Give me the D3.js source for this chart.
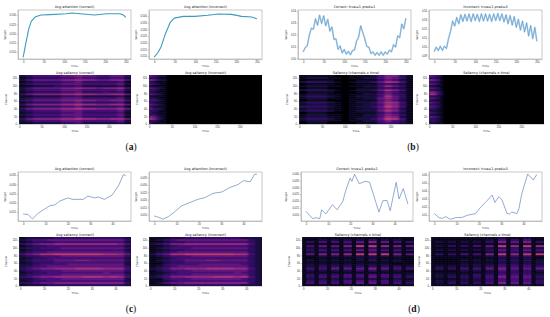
<!DOCTYPE html>
<head>
	<meta charset="utf-8">
	<style>
		body { margin: 0; background: #fff; }
		svg { display: block; font-family: "DejaVu Sans", sans-serif; }
		.axis text { font-size: 2.7px; fill: #333; stroke: none; }
		.axis line, .axis path { stroke: #666; stroke-width: 0.3px; fill: none; }
		.frame { fill: none; stroke: #888; stroke-width: 0.45px; }
		.title { font-size: 3.5px; fill: #222; text-anchor: middle; }
		.label { font-size: 2.8px; fill: #333; text-anchor: middle; }
		.tag { font-family: "Liberation Serif", serif; font-size: 9.5px; fill: #111; text-anchor: middle; }
		.tag tspan { font-weight: bold; }
		.band { fill: none; stroke-linejoin: round; }
		.mean { fill: none; stroke-linejoin: round; }
	</style>
	<title>Attention and saliency panels</title>
	<script src="https://d3js.org/d3.v7.min.js"></script>
</head>

<body>
	<div id="chart"></div>
	<script>
		// line values
		var aLeftTime = [0, 6.5, 14, 20, 30, 44, 65, 106, 118, 146, 174, 203, 236, 245, 250];
		var aLeftWeight = [.5071, .5147, .5228, .5267, .5291, .53, .5302, .5307, .5311, .5305, .53, .5307, .5307, .5298, .5287];
		var aRightTime = [0, 9, 17, 27, 39, 49, 71, 99, 131, 156, 188, 213, 237, 250];
		var aRightWeight = [.509, .5123, .5169, .5262, .5351, .5384, .5397, .5397, .5405, .5415, .5412, .5397, .5392, .5379];

		var bTime = d3.range(0, 251, 5);
		var bLeftWeight = [.5055, .509, .5105, .5195, .5255, .5245, .5335, .528, .5365, .5295, .536, .5275, .533, .523, .5265, .516, .5165, .5075, .5105, .5045, .5075, .5035, .506, .503, .5065, .507, .5145, .518, .5275, .522, .5165, .51, .5095, .504, .5055, .5025, .505, .5025, .5055, .5025, .5055, .5035, .507, .5055, .5115, .5095, .519, .5175, .529, .525, .534];
		var bRightWeight = [.4945, .4995, .4955, .5005, .496, .5005, .498, .509, .517, .5285, .523, .5325, .5255, .5355, .528, .536, .5285, .5365, .528, .5365, .529, .536, .528, .5365, .5285, .5365, .5285, .536, .528, .5365, .529, .537, .529, .5365, .5275, .5355, .5255, .5345, .524, .5335, .5215, .5305, .5185, .5285, .5165, .5265, .512, .5235, .509, .5215, .506];

		var cLeftTime = [0, 2.2, 4.2, 6.7, 9, 12, 14.2, 16.4, 20.2, 22, 26.9, 29, 32, 33.6, 36.4, 39.9, 42.9, 44.9, 46];
		var cLeftWeight = [.0139, .0136, .0112, .0143, .0161, .0184, .0188, .0209, .0226, .0218, .0218, .0236, .0226, .0231, .0218, .0242, .0296, .0353, .0346];
		var cRightTime = [0, 1.9, 3.9, 6.4, 9, 12.2, 16, 19.7, 22.7, 26.4, 30.4, 33.8, 37.6, 40, 43, 45, 46];
		var cRightWeight = [.0091, .0082, .0069, .0087, .0116, .0158, .0181, .0203, .0214, .0243, .0252, .0281, .0302, .0328, .032, .0371, .0371];

		var dLeftTime = [0, 1, 3, 4.4, 6.2, 7, 8.9, 11.9, 14, 16.6, 17.8, 19.9, 20.7, 21.9, 24, 26.7, 28.7, 32.9, 34.7, 36.6, 38, 40.7, 42, 43.9, 46];
		var dLeftWeight = [.0124, .0105, .0071, .0078, .0071, .0136, .0105, .0173, .0136, .0197, .027, .0367, .0343, .0396, .0326, .0343, .0336, .0119, .0202, .0204, .0129, .0336, .0214, .029, .0178];
		var dRightTime = [0, 2.2, 3.7, 5.2, 7.4, 9.6, 12.6, 14.8, 18.5, 20.7, 23.3, 26, 27.2, 29, 30.4, 32.6, 33.8, 34.8, 37, 38, 39.3, 41.9, 44.4, 46];
		var dRightWeight = [.0121, .0067, .0058, .0079, .0046, .0067, .0071, .0096, .0117, .0192, .0267, .035, .0258, .0329, .0288, .0121, .0113, .0138, .0117, .0183, .0371, .0613, .0538, .0608];

		// tick labels
		var timeTicksLong = [0, 50, 100, 150, 200, 250];
		var timeTicksShort = [0, 10, 20, 30, 40];
		var heatTicksLong = [0, 50, 100, 150, 200];
		var channelTicks = [0, 20, 40, 60, 80, 100, 120];
		var aLeftTicks = [.51, .515, .52, .525, .53];
		var aRightTicks = [.51, .515, .52, .525, .53, .535, .54];
		var bLeftTicks = [.5, .51, .52, .53, .54];
		var bRightTicks = [.49, .5, .51, .52, .53, .54];
		var cLeftTicks = [.015, .02, .025, .03, .035];
		var cRightTicks = [.01, .015, .02, .025, .03, .035];
		var dLeftTicks = [.01, .015, .02, .025, .03, .035, .04];
		var dRightTicks = [.01, .02, .03, .04, .05, .06];

		// saliency cells, one hex digit per cell, top channel first
		var aLeftHeat = ["2344445565544553", "1233334454433442", "2455556676655664", "1233334453333341", "2344445554444452", "1122233342222231", "2455556676656674", "2344445554444452", "1233334453334341", "3566667787766775", "1122223342222231", "2344445554444452", "3455556676655664", "1233334453333341", "3566667787766775", "1233334453333341", "3566667787766675", "2344445554444452", "1233334453333341", "2344445554444452", "1233334453333341", "3566667787766775", "2344445554444452", "1122223342222231"];
		var aRightHeat = ["54322", "33211", "65322", "32111", "43211", "21111", "54321", "33211", "32111", "54321", "21111", "33211", "44321", "32111", "54321", "32111", "53321", "33211", "32111", "33211", "65321", "86421", "33211", "31111"];
		var bLeftHeat = ["1111100111246631", "1222110112246531", "0111100011135421", "2333210122358741", "0111100011134321", "1222110112247531", "0111000011134321", "2333210122358641", "0111100011135421", "1222110112246431", "2333210122248531", "1222110112257531", "0111000111146421", "2333210122358741", "1222110112247631", "3333210122359741", "1222110112246521", "2333210122258631", "0111000111135421", "1222110112246531", "1222110112247621", "2333210122359841", "1222110112246431", "0111000011134321"];
		var bRightHeat = ["5431", "3321", "6541", "3321", "5431", "2211", "5431", "3321", "7642", "8742", "3321", "5431", "2211", "5431", "3321", "5431", "3321", "2211", "4321", "2211", "5431", "3321", "3321", "2211"];
		var cLeftHeat = ["1222233333333332", "2344555555555553", "1233344444444442", "3456677777777764", "1233444444444442", "2334445555555553", "1233344444444442", "2344555555555553", "4568899999998875", "2334445555555553", "1233444444444442", "2344455566555553", "1233344444444442", "2234444555555552", "2344555555555553", "3456677788887774", "2334445555555553", "1233444444445442", "2334445555555553", "3456677778887874", "2234445555555552", "1233444444444442", "3345566666666663", "1222333333333332"];
		var cRightHeat = ["1112233333333222", "1234555555555532", "1123344444444432", "2346677777777742", "1123444444444432", "1234445555555532", "1123344444444432", "1234555555555532", "2458899999998842", "1234445555555532", "1123444444444432", "1234455566555532", "1123344444444432", "1134444555555432", "1234555555555532", "2346677788887742", "1234445555555532", "1123444444445432", "1234445555555532", "2346677778887842", "1134445555555432", "1123444444444432", "1245566666666632", "1112333333333222"];
		var dLeftHeat = ["111111111111111111111111111", "111122122122122133122122111", "133144144144155166155144133", "111111111122122122111111111", "144155155166199199177166155", "122122122122122133122122111", "133144144144155155144144133", "122122122122122133122122111", "155166166177199199199166155", "111122122122122122122122111", "111111111111122122111111111", "122122122122122133122122111", "111111111111111111111111111", "122122122122122122122111111", "122133133133133133133133122", "144144155155155166155144144", "122122122122133133122122111", "111111111111111111111111111", "133133133144144144144133122", "133144144144144155144144133", "122122122122122122122122111", "133133133144144144144133122", "144144144144155155144144133", "111111111111111111111111111"];
		var dRightHeat = ["111111111111111122111122111", "111111111111122144133144111", "122122122122133166155166133", "111111111111111122122122111", "122133133144155199177199177", "111111111111122133133133122", "122122122122133155144155144", "111111111111122133133133122", "133133144144166199177199199", "111111111111122133133133111", "111111111111111122122122111", "111111122122122133133133122", "111111111111111122122122122", "111111122122122133133133122", "122122122122133144144144133", "133133144144155166155155155", "111111122122122144133133122", "111111111111122133133133111", "122122122133133144144144122", "122133133133144166155155133", "111111122122133144144144122", "122122122122133144144144133", "122133133133144166155155133", "111111111111111122122122111"];

		var svg = d3.select("#chart").append("svg").attr("width", 550).attr("height", 317);
		var color = d3.scaleSequential(d3.interpolateMagma).domain([0, 17]);

		// soft across time, much tighter across channels so the stripes survive
		var soften = svg.append("defs").append("filter").attr("id", "soften")
			.attr("x", "-5%").attr("y", "-5%").attr("width", "110%").attr("height", "110%");
		soften.append("feGaussianBlur").attr("stdDeviation", "1 0.3");
		var softenFine = svg.select("defs").append("filter").attr("id", "softenFine")
			.attr("x", "-5%").attr("y", "-5%").attr("width", "110%").attr("height", "110%");
		softenFine.append("feGaussianBlur").attr("stdDeviation", "0.6 0.35");

		function drawLine(p) {
			var x = d3.scaleLinear().domain(p.xDomain).range([p.x0, p.x1]);
			var y = d3.scaleLinear().domain(p.yDomain).range([p.y1, p.y0]);
			var g = svg.append("g");
			var line = d3.line().x(function (d, i) { return x(p.time[i]); }).y(function (d) { return y(d); });

			if (p.bandWidth) {
				g.append("path").attr("class", "band").attr("d", line(p.weight))
					.attr("stroke", p.color).attr("stroke-width", p.bandWidth).attr("stroke-opacity", 0.35);
			}
			g.append("path").attr("class", "mean").attr("d", line(p.weight))
				.attr("stroke", p.color).attr("stroke-width", p.lineWidth);

			g.append("g").attr("class", "axis").attr("transform", "translate(0," + p.y1 + ")")
				.call(d3.axisBottom(x).tickValues(p.xTicks).tickSize(1.2).tickPadding(0.7).tickSizeOuter(0));
			g.append("g").attr("class", "axis").attr("transform", "translate(" + p.x0 + ",0)")
				.call(d3.axisLeft(y).tickValues(p.yTicks).tickFormat(d3.format(p.yFormat)).tickSize(1.2).tickPadding(0.7).tickSizeOuter(0));
			g.append("rect").attr("class", "frame").attr("x", p.x0).attr("y", p.y0)
				.attr("width", p.x1 - p.x0).attr("height", p.y1 - p.y0);

			g.append("text").attr("class", "title").attr("x", (p.x0 + p.x1) / 2).attr("y", p.y0 - 2).text(p.title);
			g.append("text").attr("class", "label").attr("x", (p.x0 + p.x1) / 2).attr("y", p.y1 + 8).text("Time");
			g.append("text").attr("class", "label").attr("transform", "translate(" + p.labelX + "," + (p.y0 + p.y1) / 2 + ") rotate(-90)").text("Weight");
		}

		function drawHeat(p, index) {
			var x = d3.scaleLinear().domain(p.xDomain).range([p.x0, p.x1]);
			var y = d3.scaleLinear().domain([0, 128]).range([p.y1, p.y0]);
			var cols = d3.scaleBand().domain(d3.range(p.columns)).range([p.x0, p.x1]);
			var rows = d3.scaleBand().domain(d3.range(p.cells.length)).range([p.y0, p.y1]);
			var g = svg.append("g");

			g.append("clipPath").attr("id", "clip" + index).append("rect")
				.attr("x", p.x0).attr("y", p.y0).attr("width", p.x1 - p.x0).attr("height", p.y1 - p.y0);
			var clipped = g.append("g").attr("clip-path", "url(#clip" + index + ")");
			clipped.append("rect").attr("x", p.x0).attr("y", p.y0).attr("width", p.x1 - p.x0).attr("height", p.y1 - p.y0)
				.attr("fill", color(0));
			var cells = clipped.append("g").attr("filter", "url(#" + p.filter + ")");

			p.cells.forEach(function (row, r) {
				cells.selectAll(null)
					.data(row.padEnd(p.columns, "0").split(""))
					.enter().append("rect")
					.attr("x", function (d, c) { return cols(c); })
					.attr("y", rows(r))
					.attr("width", cols.bandwidth() + 0.3)
					.attr("height", rows.bandwidth() + 0.3)
					.attr("fill", function (d) { return color(parseInt(d, 16)); });
			});

			g.append("g").attr("class", "axis").attr("transform", "translate(0," + p.y1 + ")")
				.call(d3.axisBottom(x).tickValues(p.xTicks).tickSize(1.2).tickPadding(0.7).tickSizeOuter(0));
			g.append("g").attr("class", "axis").attr("transform", "translate(" + p.x0 + ",0)")
				.call(d3.axisLeft(y).tickValues(channelTicks).tickSize(1.2).tickPadding(0.7).tickSizeOuter(0));

			g.append("text").attr("class", "title").attr("x", (p.x0 + p.x1) / 2).attr("y", p.y0 - 1).text(p.title);
			g.append("text").attr("class", "label").attr("x", (p.x0 + p.x1) / 2).attr("y", p.y1 + 8).text("Time");
			g.append("text").attr("class", "label").attr("transform", "translate(" + p.labelX + "," + (p.y0 + p.y1) / 2 + ") rotate(-90)").text("Channel");
		}

		var longX = [-12.5, 262.5], shortX = [-2.3, 48.3];
		var teal = "#3a9cc0", blue = "#3f8ac4", slate = "#6487be";

		[
			{ x0: 18, x1: 131, y0: 10, y1: 59, time: aLeftTime, weight: aLeftWeight, xDomain: longX, yDomain: [.5062, .5327], xTicks: timeTicksLong, yTicks: aLeftTicks, yFormat: ".3f", title: "Avg attention (correct)", labelX: 5.5, color: teal, lineWidth: 1.1 },
			{ x0: 149, x1: 262, y0: 10, y1: 59, time: aRightTime, weight: aRightWeight, xDomain: longX, yDomain: [.5076, .5445], xTicks: timeTicksLong, yTicks: aRightTicks, yFormat: ".3f", title: "Avg attention (incorrect)", labelX: 136.5, color: teal, lineWidth: 1.1 },
			{ x0: 298, x1: 411, y0: 10, y1: 59, time: bTime, weight: bLeftWeight, xDomain: longX, yDomain: [.4994, .5409], xTicks: timeTicksLong, yTicks: bLeftTicks, yFormat: ".2f", title: "Correct: true=1 pred=1", labelX: 287, color: blue, lineWidth: 0.5, bandWidth: 1.7 },
			{ x0: 429, x1: 542, y0: 10, y1: 59, time: bTime, weight: bRightWeight, xDomain: longX, yDomain: [.4863, .5408], xTicks: timeTicksLong, yTicks: bRightTicks, yFormat: ".2f", title: "Incorrect: true=1 pred=0", labelX: 417.5, color: blue, lineWidth: 0.5, bandWidth: 1.7 },
			{ x0: 18, x1: 131, y0: 172, y1: 221, time: cLeftTime, weight: cLeftWeight, xDomain: shortX, yDomain: [.0101, .0366], xTicks: timeTicksShort, yTicks: cLeftTicks, yFormat: ".3f", title: "Avg attention (correct)", labelX: 5.5, color: slate, lineWidth: 0.7 },
			{ x0: 149, x1: 262, y0: 172, y1: 221, time: cRightTime, weight: cRightWeight, xDomain: shortX, yDomain: [.0057, .0386], xTicks: timeTicksShort, yTicks: cRightTicks, yFormat: ".3f", title: "Avg attention (incorrect)", labelX: 136.5, color: slate, lineWidth: 0.7 },
			{ x0: 301, x1: 413, y0: 172, y1: 221, time: dLeftTime, weight: dLeftWeight, xDomain: shortX, yDomain: [.0054, .0411], xTicks: timeTicksShort, yTicks: dLeftTicks, yFormat: ".3f", title: "Correct: true=1 pred=1", labelX: 287, color: slate, lineWidth: 0.7 },
			{ x0: 429, x1: 542, y0: 172, y1: 221, time: dRightTime, weight: dRightWeight, xDomain: shortX, yDomain: [.0025, .0638], xTicks: timeTicksShort, yTicks: dRightTicks, yFormat: ".2f", title: "Incorrect: true=1 pred=0", labelX: 418, color: slate, lineWidth: 0.7 }
		].forEach(drawLine);

		[
			{ x0: 19, x1: 131, y0: 75, y1: 124, cells: aLeftHeat, columns: 16, filter: "soften", xDomain: [-.5, 249.5], xTicks: heatTicksLong, title: "Avg saliency (correct)", labelX: 7 },
			{ x0: 149, x1: 262, y0: 75, y1: 124, cells: aRightHeat, columns: 32, filter: "soften", xDomain: [-.5, 249.5], xTicks: heatTicksLong, title: "Avg saliency (incorrect)", labelX: 138 },
			{ x0: 299, x1: 413, y0: 75, y1: 124, cells: bLeftHeat, columns: 16, filter: "soften", xDomain: [-.5, 249.5], xTicks: heatTicksLong, title: "Saliency (channels x time)", labelX: 288 },
			{ x0: 429, x1: 544, y0: 75, y1: 124, cells: bRightHeat, columns: 32, filter: "soften", xDomain: [-.5, 249.5], xTicks: heatTicksLong, title: "Saliency (channels x time)", labelX: 418 },
			{ x0: 19, x1: 131, y0: 237, y1: 286, cells: cLeftHeat, columns: 16, filter: "soften", xDomain: [-.5, 46.5], xTicks: timeTicksShort, title: "Avg saliency (correct)", labelX: 7 },
			{ x0: 149, x1: 262, y0: 237, y1: 286, cells: cRightHeat, columns: 16, filter: "soften", xDomain: [-.5, 46.5], xTicks: timeTicksShort, title: "Avg saliency (incorrect)", labelX: 138 },
			{ x0: 302, x1: 414, y0: 237, y1: 286, cells: dLeftHeat, columns: 27, filter: "softenFine", xDomain: [-.5, 46.5], xTicks: timeTicksShort, title: "Saliency (channels x time)", labelX: 290 },
			{ x0: 431, x1: 544, y0: 237, y1: 286, cells: dRightHeat, columns: 27, filter: "softenFine", xDomain: [-.5, 46.5], xTicks: timeTicksShort, title: "Saliency (channels x time)", labelX: 420 }
		].forEach(drawHeat);

		[["a", 131, 150], ["b", 413, 150], ["c", 131, 312], ["d", 414, 312]].forEach(function (t) {
			var tag = svg.append("text").attr("class", "tag").attr("x", t[1]).attr("y", t[2]);
			tag.append("tspan").style("font-weight", "normal").text("(");
			tag.append("tspan").text(t[0]);
			tag.append("tspan").style("font-weight", "normal").text(")");
		});
	</script>
</body>
